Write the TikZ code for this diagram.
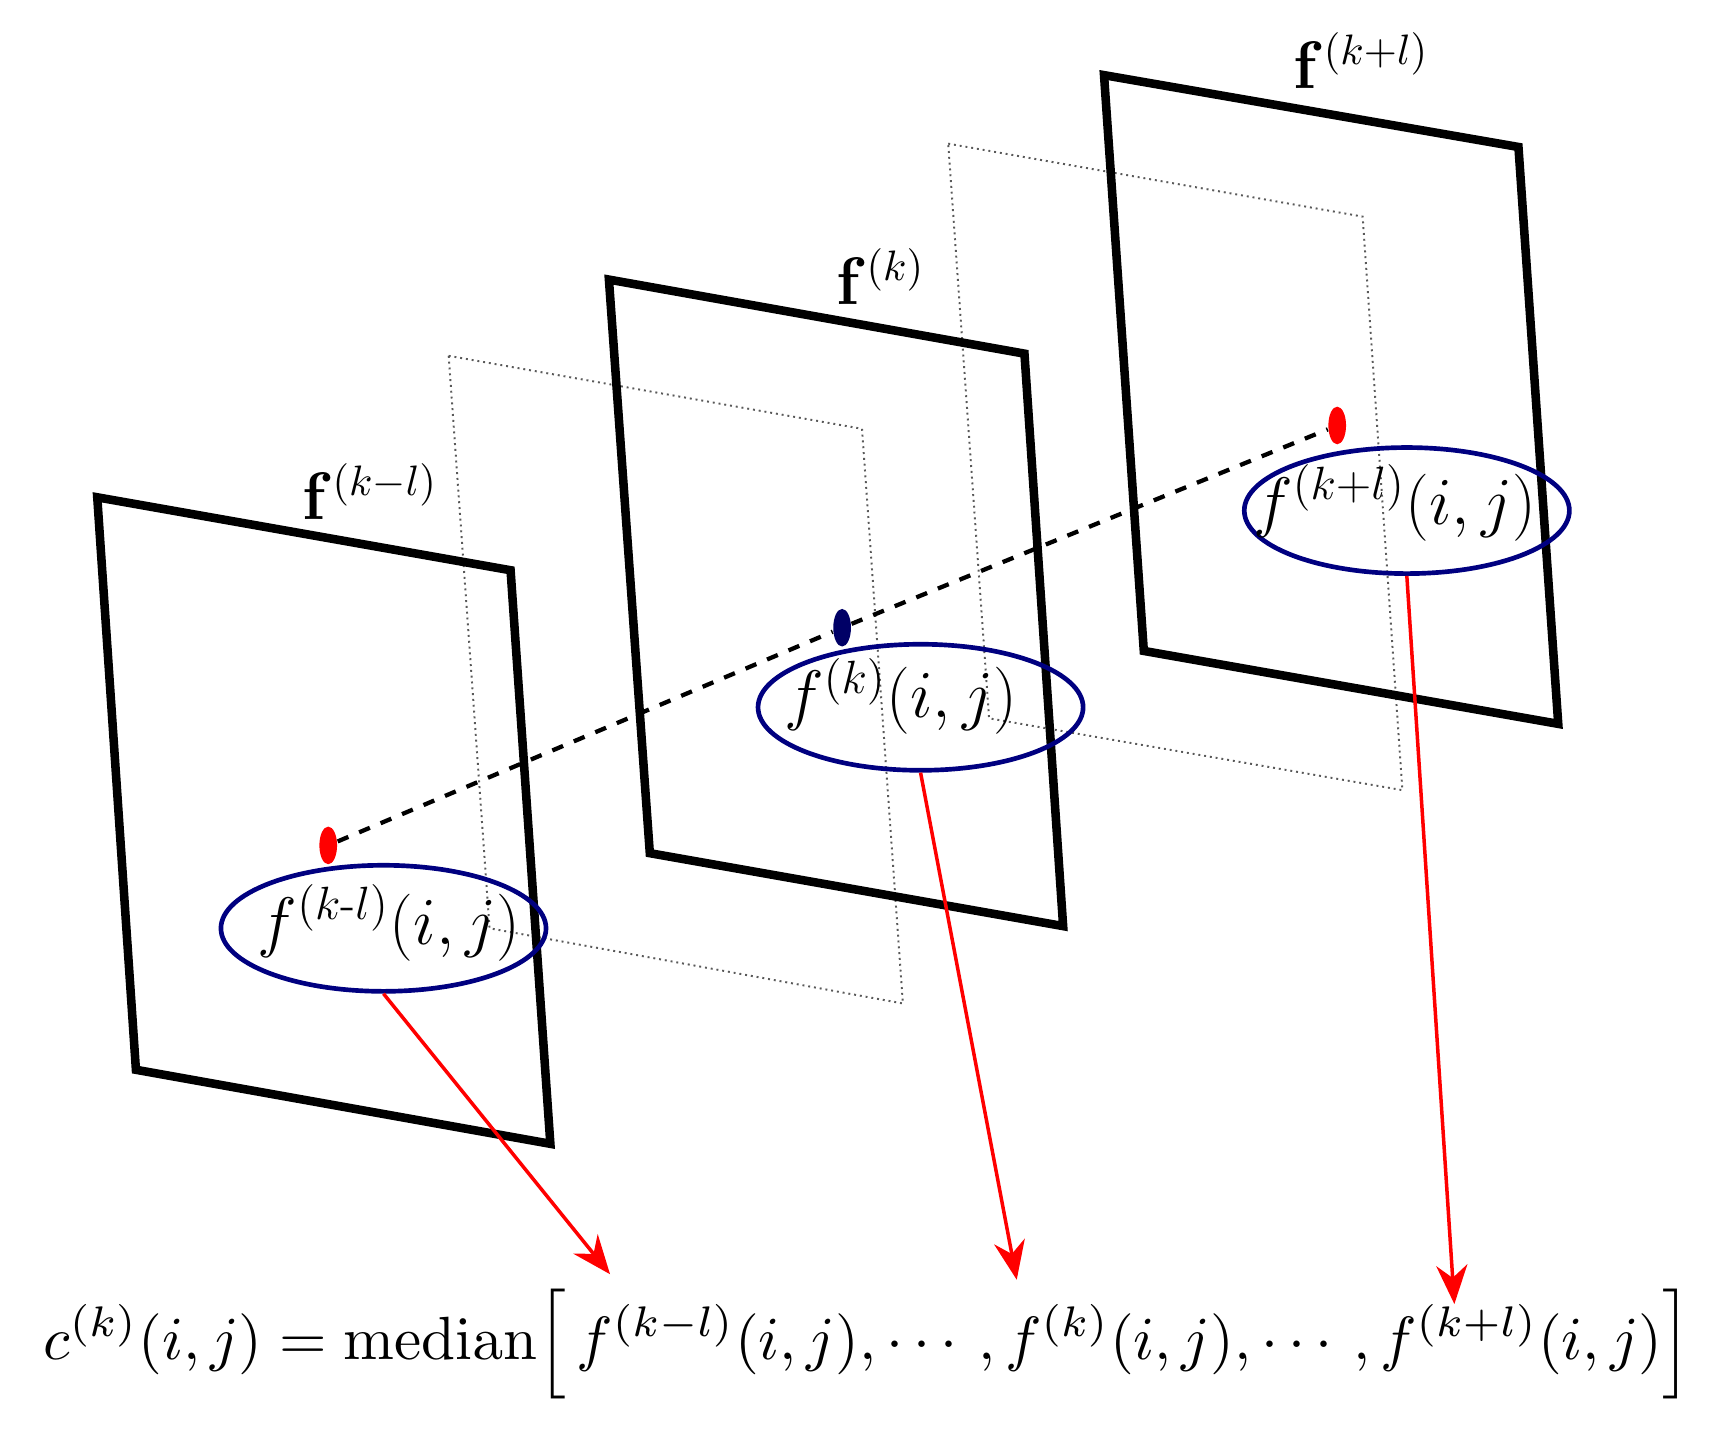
\documentclass[tikz,border=0pt]{standalone}
\usepackage{amsmath,bm}
\usetikzlibrary{shapes.geometric,arrows.meta}
\begin{document}
\begin{tikzpicture}[x=0.01cm,y=-0.01cm,
 frame/.style={line width=2.2pt,line join=miter},
 dframe/.style={densely dotted,line width=0.5pt,gray!70!black},
 ell/.style={draw=blue!50!black,line width=1.2pt,ellipse,minimum width=2.94cm,minimum height=1.14cm,inner sep=0pt},
 dot/.style={ellipse,minimum width=0.16cm,minimum height=0.34cm,inner sep=0pt},
 arr/.style={red,line width=0.9pt,-{Stealth[length=10pt,width=8pt]}},
 lab/.style={font=\fontsize{17}{19}\selectfont},
 flab/.style={font=\fontsize{16}{18}\selectfont}]
\useasboundingbox (0,0) rectangle (1560,1294);
% dotted frames
\draw[dframe] (406,322)--(780,388)--(817,908)--(443,840)--cycle;
\draw[dframe] (858,130)--(1233,196)--(1269,715)--(895,650)--cycle;
% solid frames
\draw[frame] (88,450)--(462,516)--(498,1035)--(123,968)--cycle;
\draw[frame] (551,253)--(927,320)--(962,838)--(588,772)--cycle;
\draw[frame] (999,68)--(1374,133)--(1410,655)--(1035,589)--cycle;
% labels
\node[flab] (L1) at (335,445) {$\mathbf{f}^{(k-l)}$};
\node[flab] (L2) at (797,250) {$\mathbf{f}^{(k)}$};
\node[flab] (L3) at (1232,55) {$\mathbf{f}^{(k+l)}$};
% dots
\node[dot,fill=red] (d1) at (297,765) {};
\node[dot,fill=blue!40!black] (d2) at (762,568) {};
\node[dot,fill=red] (d3) at (1210,385) {};
\draw[dashed,line width=1.1pt] (d1)--(d2)--(d3);
% ellipses
\node[ell] (e1) at (347,840) {};
\node[ell] (e2) at (833,640) {};
\node[ell] (e3) at (1273,462) {};
\node[lab] (t1l) at (352,835) {$f^{(k\text{-}l)}(i,j)$};
\node[lab] (t2l) at (815,630) {$f^{(k)}(i,j)$};
\node[lab] (t3l) at (1262,455) {$f^{(k+l)}(i,j)$};
% formula
\node (F) at (785,1216) {\resizebox{14.9cm}{!}{$c^{(k)}(i,j)=\mathrm{median}\Bigl[\,f^{(k-l)}(i,j),\cdots,f^{(k)}(i,j),\cdots,f^{(k+l)}(i,j)\Bigr]$}};
\coordinate (t1) at (552,1153);
\coordinate (t2) at (920,1158);
\coordinate (t3) at (1316,1180);
\draw[arr] (e1.south)--(t1);
\draw[arr] (e2.south)--(t2);
\draw[arr] (e3.south)--(t3);
\end{tikzpicture}
\end{document}
